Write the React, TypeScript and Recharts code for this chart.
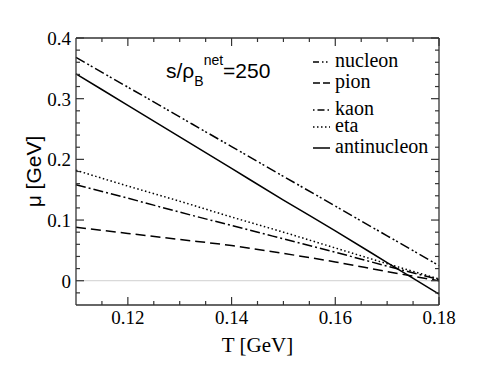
import React from "react";
import {
  LineChart,
  Line,
  XAxis,
  YAxis,
  ReferenceLine,
  Label,
} from "recharts";

// temperature grid [GeV]
const T_VALUES = [0.11, 0.12, 0.13, 0.14, 0.15, 0.16, 0.17, 0.18];

// chemical potentials [GeV]
const NUCLEON = [0.368, 0.319, 0.27, 0.221, 0.172, 0.123, 0.074, 0.025];
const PION = [0.088, 0.078, 0.068, 0.058, 0.045, 0.031, 0.015, 0.0];
const KAON = [0.158, 0.136, 0.113, 0.091, 0.069, 0.047, 0.024, 0.002];
const ETA = [0.182, 0.156, 0.131, 0.105, 0.08, 0.054, 0.028, 0.003];
const ANTINUCLEON = [0.341, 0.289, 0.237, 0.185, 0.133, 0.082, 0.03, -0.022];

const X_MAJOR = [0.12, 0.14, 0.16, 0.18];
const X_MINOR = [0.115, 0.125, 0.13, 0.135, 0.145, 0.15, 0.155, 0.165, 0.17, 0.175];
const Y_MAJOR = [0, 0.1, 0.2, 0.3, 0.4];
const Y_MINOR = [-0.02, 0.02, 0.04, 0.06, 0.08, 0.12, 0.14, 0.16, 0.18, 0.22, 0.24, 0.26, 0.28, 0.32, 0.34, 0.36, 0.38];

const SERIES = [
  { key: "nucleon", name: "nucleon", dash: "10 3 2 2 2 3", legendDash: "6 3 1.5 2.5 1.5 3" },
  { key: "pion", name: "pion", dash: "10 5", legendDash: "7 3 7" },
  { key: "kaon", name: "kaon", dash: "10 3 2 3", legendDash: "1.5 3 7 3 1.5" },
  { key: "eta", name: "eta", dash: "1.5 2.5", legendDash: "1.5 2.5" },
  { key: "antinucleon", name: "antinucleon", dash: undefined, legendDash: undefined },
];

const data = T_VALUES.map((t, i) => ({
  T: t,
  nucleon: NUCLEON[i],
  pion: PION[i],
  kaon: KAON[i],
  eta: ETA[i],
  antinucleon: ANTINUCLEON[i],
}));

const W = 494;
const H = 382;
const MARGIN = { top: 37, right: 54, bottom: 17, left: 26 };
const Y_AXIS_W = 50;
const R_AXIS_W = 1;
const PLOT_W = W - MARGIN.left - MARGIN.right - Y_AXIS_W - R_AXIS_W;

const SERIF = "'Liberation Serif', 'Times New Roman', serif";
const SANS = "'Liberation Sans', Arial, sans-serif";
const FRAME = "#333";

const fmt = (v: number) => String(v);

// y ticks: drawn inward on the left and mirrored on the right frame edge
const YTick = (props: any) => {
  const { x, y, payload } = props;
  const v = payload.value;
  const len = Y_MAJOR.includes(v) ? 8 : 4;
  const xr = x + PLOT_W;
  return (
    <g>
      <line x1={x} y1={y} x2={x + len} y2={y} stroke={FRAME} strokeWidth={1.2} />
      <line x1={xr} y1={y} x2={xr - len} y2={y} stroke={FRAME} strokeWidth={1.2} />
      {Y_MAJOR.includes(v) && (
        <text x={x - 5} y={y} dy={7} textAnchor="end" fontFamily={SERIF} fontSize={19} fill="#000">
          {fmt(v)}
        </text>
      )}
    </g>
  );
};

function makeXTick(side: "top" | "bottom") {
  return (props: any) => {
    const { x, y, payload } = props;
    const v = payload.value;
    const major = X_MAJOR.includes(v);
    const len = major ? 8 : 4;
    const y2 = side === "bottom" ? y - len : y + len;
    return (
      <g>
        <line x1={x} y1={y} x2={x} y2={y2} stroke={FRAME} strokeWidth={1.2} />
        {side === "bottom" && major && (
          <text x={x} y={y + 19} textAnchor="middle" fontFamily={SERIF} fontSize={19} fill="#000">
            {fmt(v)}
          </text>
        )}
      </g>
    );
  };
}

// legend baselines, relative to the legend box
const LEGEND_ROWS = [19, 40, 67, 84, 105];

function LegendBox({ left, top }: { left: number; top: number }) {
  return (
    <g transform={`translate(${left} ${top})`}>
      {SERIES.map((s, i) => (
        <g key={s.key}>
          <line
            x1={8}
            x2={25}
            y1={LEGEND_ROWS[i] - 5}
            y2={LEGEND_ROWS[i] - 5}
            stroke="#000"
            strokeWidth={1.5}
            strokeDasharray={s.legendDash}
          />
          <text x={30} y={LEGEND_ROWS[i]} fontFamily={SERIF} fontSize={20} fill="#000">
            {s.name}
          </text>
        </g>
      ))}
    </g>
  );
}

export default function App() {
  const xTicks = [...X_MAJOR, ...X_MINOR];
  const yTicks = [...Y_MAJOR, ...Y_MINOR];
  return (
    <div style={{ position: "absolute", left: 0, top: 0, width: W, height: H, background: "#fff" }}>
      <LineChart width={W} height={H} data={data} margin={MARGIN}>
        <XAxis
          xAxisId="b"
          dataKey="T"
          type="number"
          domain={[0.11, 0.18]}
          ticks={xTicks}
          interval={0}
          height={60}
          tickSize={0}
          tickMargin={0}
          axisLine={{ stroke: FRAME, strokeWidth: 1.3 }}
          tickLine={false}
          tick={makeXTick("bottom")}
        >
          <Label
            content={(p: any) => (
              <text
                x={p.viewBox.x + p.viewBox.width / 2}
                y={p.viewBox.y + 47}
                textAnchor="middle"
                fontFamily={SERIF}
                fontSize={21}
                fill="#000"
              >
                T [GeV]
              </text>
            )}
          />
        </XAxis>
        <XAxis
          xAxisId="t"
          dataKey="T"
          type="number"
          orientation="top"
          domain={[0.11, 0.18]}
          ticks={xTicks}
          interval={0}
          height={1}
          tickSize={0}
          tickMargin={0}
          axisLine={{ stroke: FRAME, strokeWidth: 1.3 }}
          tickLine={false}
          tick={makeXTick("top")}
        />
        <YAxis
          yAxisId="l"
          type="number"
          domain={[-0.04, 0.4]}
          ticks={yTicks}
          interval={0}
          width={Y_AXIS_W}
          tickSize={0}
          tickMargin={0}
          axisLine={{ stroke: FRAME, strokeWidth: 1.3 }}
          tickLine={false}
          tick={YTick}
        >
          <Label
            content={(p: any) => {
              const cx = 33;
              const cy = p.viewBox.y + p.viewBox.height / 2;
              return (
                <text
                  x={cx}
                  y={cy}
                  transform={`rotate(-90 ${cx} ${cy})`}
                  textAnchor="middle"
                  dominantBaseline="central"
                  fontFamily={SANS}
                  fontSize={21}
                  fill="#000"
                >
                  μ [GeV]
                </text>
              );
            }}
          />
        </YAxis>
        <YAxis
          yAxisId="r"
          type="number"
          orientation="right"
          domain={[-0.04, 0.4]}
          width={R_AXIS_W}
          axisLine={{ stroke: FRAME, strokeWidth: 1.3 }}
          tickLine={false}
          tick={false}
        />
        <ReferenceLine xAxisId="b" yAxisId="l" y={0} stroke="#cfcfcf" strokeWidth={1} />
        {SERIES.map((s) => (
          <Line
            key={s.key}
            xAxisId="b"
            yAxisId="l"
            type="monotone"
            dataKey={s.key}
            name={s.name}
            stroke="#000"
            strokeWidth={1.5}
            strokeDasharray={s.dash}
            dot={false}
            activeDot={false}
            isAnimationActive={false}
          />
        ))}
      </LineChart>
      <svg width={W} height={H} style={{ position: "absolute", left: 0, top: 0, pointerEvents: "none" }}>
        <text x={166} y={78} fontFamily={SANS} fontSize={21} fill="#000">
          s/ρ
          <tspan fontSize={14} dy={8}>B</tspan>
          <tspan fontSize={14} dy={-21}>net</tspan>
          <tspan fontSize={21} dy={13}>=250</tspan>
        </text>
        <LegendBox left={305} top={48} />
      </svg>
    </div>
  );
}
